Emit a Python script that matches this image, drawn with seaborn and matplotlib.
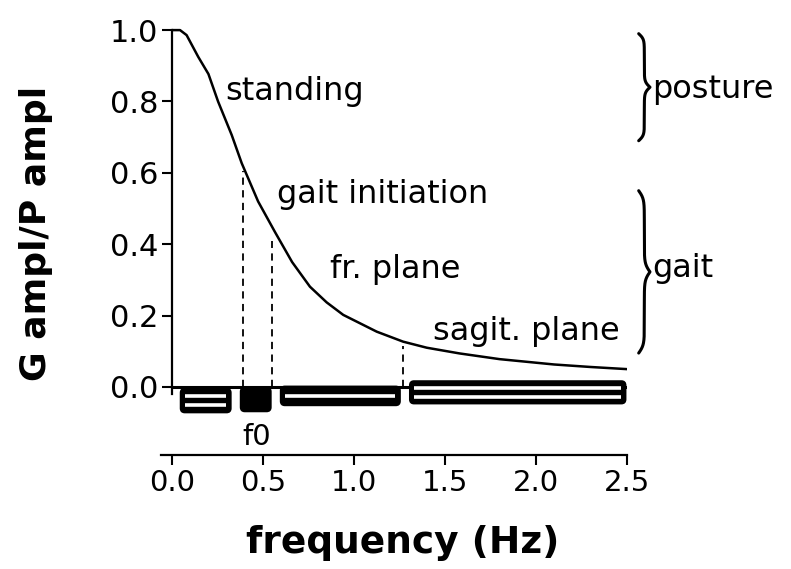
import numpy as np
import pandas as pd
import seaborn as sns
import matplotlib.pyplot as plt
from matplotlib.patches import FancyBboxPatch

# curve
freq = [0.0, 0.044, 0.08, 0.144, 0.20, 0.253, 0.328, 0.383, 0.473, 0.566,
        0.66, 0.758, 0.85, 0.941, 1.125, 1.27, 1.40, 1.58, 1.80, 2.10, 2.30, 2.50]
ratio = [1.0, 1.0, 0.986, 0.925, 0.877, 0.80, 0.706, 0.627, 0.52, 0.434,
         0.35, 0.281, 0.237, 0.202, 0.155, 0.127, 0.11, 0.094, 0.078, 0.063, 0.056, 0.05]

# dashed markers (frequency, height of curve there)
mark_freq = [0.39, 0.55, 1.27]
mark_top = [0.605, 0.41, 0.115]

# frequency bands drawn as boxes below zero
band_start = [0.05, 0.38, 0.60, 1.31]
band_end = [0.32, 0.54, 1.25, 2.49]
band_top = [-0.006, -0.003, 0.0, 0.015]
band_bottom = [-0.07, -0.067, -0.05, -0.045]
band_stripes = [2, 0, 1, 2]

xticks = [0.0, 0.5, 1.0, 1.5, 2.0, 2.5]
yticks = [0.0, 0.2, 0.4, 0.6, 0.8, 1.0]

sns.set_style("ticks")
plt.rcParams['font.family'] = ['DejaVu Sans']
plt.rcParams['text.color'] = 'black'
plt.rcParams['axes.labelcolor'] = 'black'

df = pd.DataFrame({'freq': freq, 'ratio': ratio})

fig = plt.figure(figsize=(7.91, 5.69), dpi=100)
ax = fig.add_axes([0.2175, 0.2133, 0.575, 0.7526])

sns.lineplot(data=df, x='freq', y='ratio', color='black', lw=1.8, ax=ax)
ax.plot([0, 2.5], [0, 0], color='black', lw=2.2, solid_capstyle='butt')

for f, t in zip(mark_freq, mark_top):
    ax.plot([f, f], [0, t], color='black', lw=1.3, linestyle=(0, (4, 3)))

# boxes: rounding kept circular in pixels
asp = (1 / 357) / (1 / 182)
for x0, x1, y0, y1, n in zip(band_start, band_end, band_top, band_bottom, band_stripes):
    box = FancyBboxPatch((x0, y1), x1 - x0, y0 - y1,
                         boxstyle="round,pad=0,rounding_size=0.02",
                         mutation_aspect=asp, facecolor='black',
                         edgecolor='black', lw=2.0, zorder=3)
    ax.add_patch(box)
    h = y0 - y1
    if n == 1:
        levels = [0.5]
    elif n == 2:
        levels = [0.3, 0.68]
    else:
        levels = []
    for lv in levels:
        ax.plot([x0 + 0.022, x1 - 0.022], [y1 + h * lv] * 2, color='white',
                lw=2.6, solid_capstyle='butt', zorder=4)

ax.set_xlim(0, 2.5)
ax.set_ylim(-0.17, 1.03)
ax.set_yticks(yticks)
ax.set_yticklabels([f"{v:.1f}" for v in yticks])
ax.set_xticks([])
ax.set_xlabel('')
ax.set_ylabel('')
sns.despine(ax=ax, bottom=True)
ax.spines['left'].set_bounds(-0.02, 1.0)
ax.spines['left'].set_linewidth(1.6)
ax.spines['left'].set_color('black')
ax.tick_params(axis='y', direction='out', length=7, width=1.5, pad=3,
               labelsize=22, colors='black')

txt = dict(fontsize=23, color='black')
ax.text(0.291, 0.804, 'standing', ha='left', va='baseline', **txt)
ax.text(0.575, 0.515, 'gait initiation', ha='left', va='baseline', **txt)
ax.text(0.868, 0.305, 'fr. plane', ha='left', va='baseline', **txt)
ax.text(1.434, 0.132, 'sagit. plane', ha='left', va='baseline', **txt)
ax.text(0.467, -0.162, 'f0', ha='center', va='baseline', fontsize=21, color='black')
ax.text(2.637, 0.81, 'posture', ha='left', va='baseline', **txt)
ax.text(2.637, 0.308, 'gait', ha='left', va='baseline', **txt)


def brace(ax, x0, ytop, ybot, width):
    t = np.linspace(0, 0.5, 200)
    b = 40.0
    h = 1 / (1 + np.exp(-b * (t - t[0]))) + 1 / (1 + np.exp(-b * (t - t[-1])))
    xs = np.concatenate((h, h[-2::-1])) - 0.5
    ys = np.linspace(ytop, ybot, len(xs))
    ax.plot(x0 + xs * width, ys, color='black', lw=2.2, clip_on=False)


brace(ax, 2.565, 0.99, 0.69, 0.062)
brace(ax, 2.565, 0.55, 0.095, 0.062)

# separate frequency axis underneath
ax2 = fig.add_axes([0.2175, 0.2004, 0.575, 0.001])
ax2.set_xlim(0, 2.5)
ax2.set_yticks([])
ax2.set_xticks(xticks)
ax2.set_xticklabels([f"{v:.1f}" for v in xticks])
sns.despine(ax=ax2, left=True)
ax2.spines['bottom'].set_bounds(-0.06, 2.5)
ax2.spines['bottom'].set_linewidth(1.6)
ax2.spines['bottom'].set_color('black')
ax2.tick_params(axis='x', direction='out', length=7, width=1.5, pad=3,
                labelsize=21, colors='black')
ax2.patch.set_alpha(0)

fig.text(0.045, 0.59, 'G ampl/P ampl', rotation=90, ha='center', va='center',
         fontsize=26, fontweight='bold', color='black')
fig.text(0.509, 0.046, 'frequency (Hz)', ha='center', va='center',
         fontsize=27, fontweight='bold', color='black')

fig.savefig('out.png', dpi=100)
